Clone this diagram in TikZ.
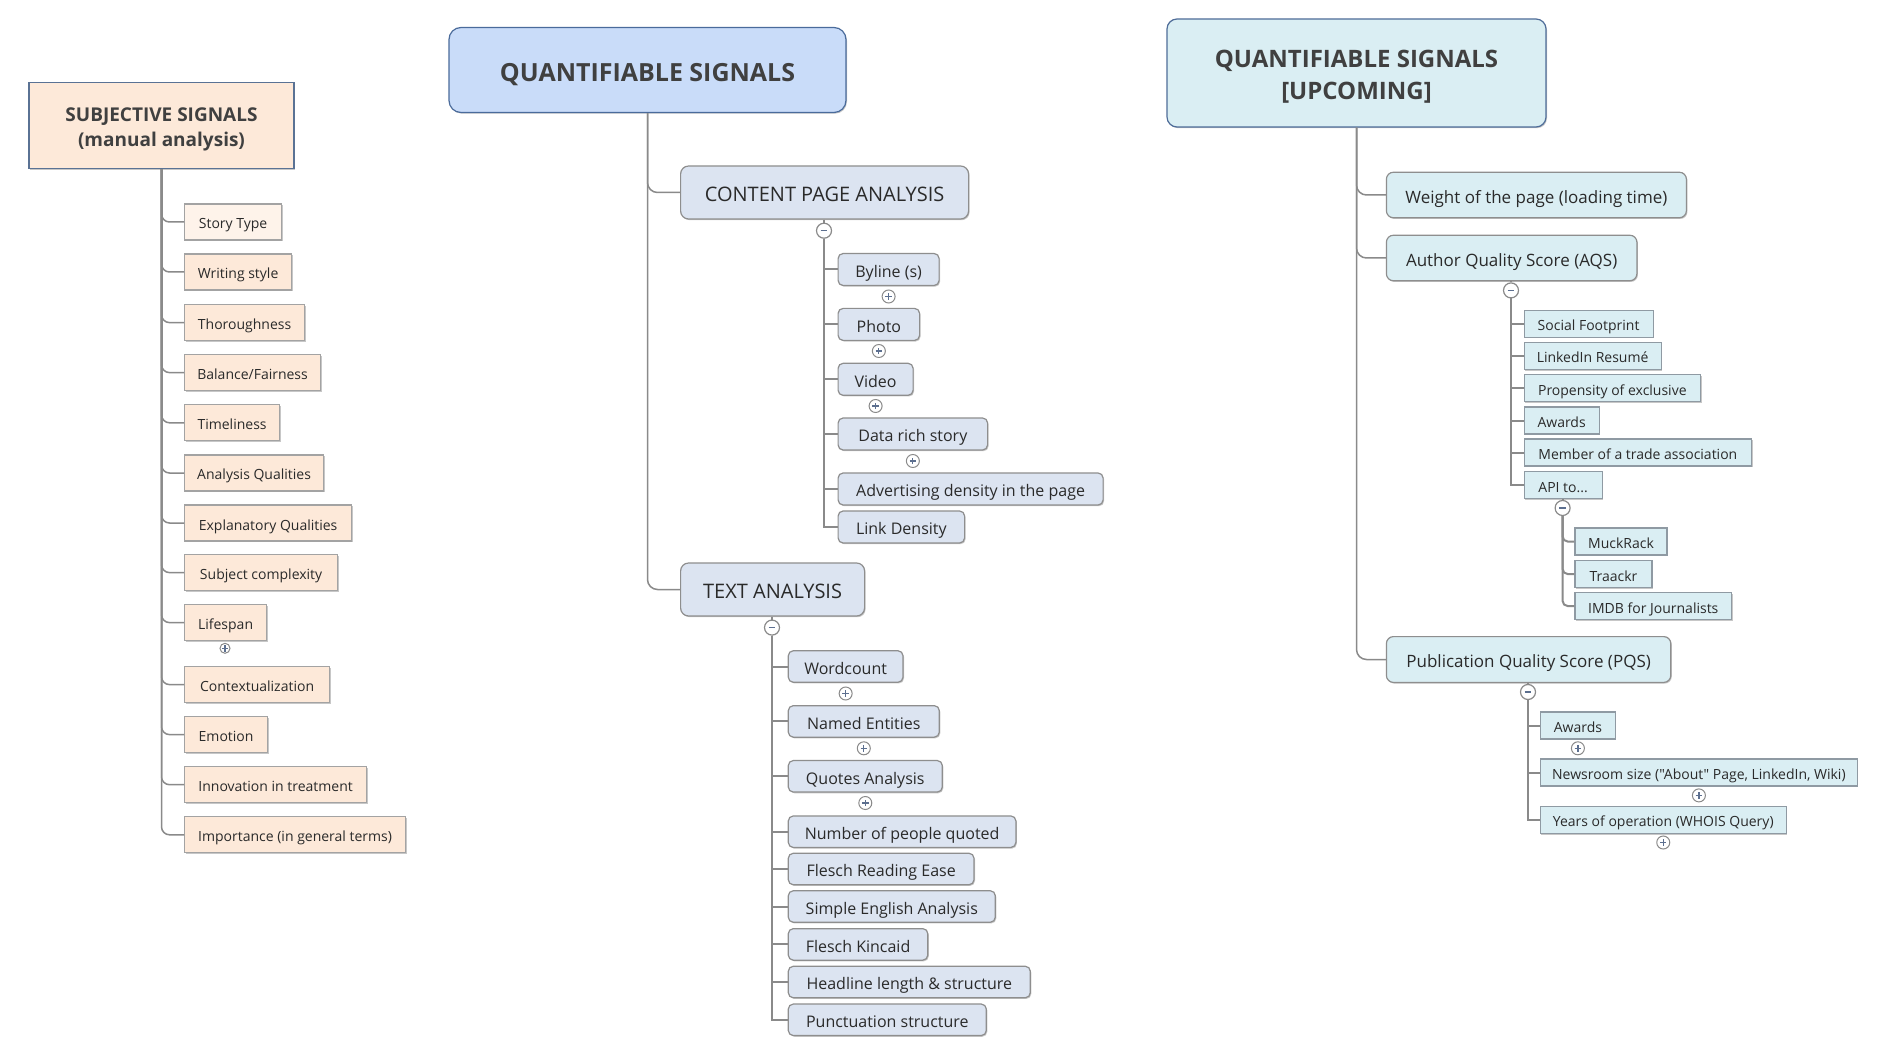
\documentclass[tikz,border=0pt]{standalone}
\usepackage{fontspec}
\setmainfont{Open Sans}[Ligatures=TeXOff]
\usetikzlibrary{shadows}
\definecolor{peach}{HTML}{FDE9D9}
\definecolor{peachlt}{HTML}{FEF3EA}
\definecolor{sborder}{HTML}{5A7294}
\definecolor{gborder}{HTML}{A3A3A3}
\definecolor{qsfill}{HTML}{C9DCF9}
\definecolor{qsborder}{HTML}{4A6B9B}
\definecolor{cfill}{HTML}{DCE4F1}
\definecolor{cborder}{HTML}{8E8E8E}
\definecolor{ufill}{HTML}{DAEEF3}
\definecolor{uborder}{HTML}{4F6D99}
\definecolor{ucborder}{HTML}{8F9AA3}
\definecolor{linec}{HTML}{8A8A8A}
\definecolor{txt}{HTML}{2A2A2A}
\definecolor{ttl}{HTML}{404040}
\definecolor{sign}{HTML}{5C6F8F}
\tikzset{
  wh/.style 2 args={minimum width={#1*0.5pt}, minimum height={#2*0.5pt}},
  tv/.style 2 args={text height=#1pt, text depth=#2pt},
  shad/.style={drop shadow={shadow xshift=0.5pt, shadow yshift=-0.6pt, fill=black, opacity=0.22}},
  base/.style={draw, inner sep=0pt, text=txt, line width=0.6pt, shad},
  sbox/.style={base, fill=peach, draw=gborder, font=\fontsize{7pt}{8.5pt}\selectfont, tv={8.75}{1.75}, anchor=west},
  cbox/.style={base, fill=cfill, draw=cborder, rounded corners=2.5pt, font=\fontsize{8pt}{9.5pt}\selectfont, tv={9.7}{2}, anchor=west},
  hbox/.style={base, fill=cfill, draw=cborder, rounded corners=4pt, font=\fontsize{10pt}{12pt}\selectfont, tv={11.6}{2.5}, anchor=west},
  mbox/.style={base, fill=ufill, draw=cborder, rounded corners=3.5pt, font=\fontsize{8.5pt}{10pt}\selectfont, tv={10.2}{2.1}, anchor=west},
  ubox/.style={base, fill=ufill, draw=ucborder, font=\fontsize{7pt}{8.5pt}\selectfont, tv={8.75}{1.75}, anchor=west},
  trunk/.style={draw=linec, line width=0.75pt},
  sub/.style={draw=linec, line width=1pt},
  plusc/.style={circle, draw=linec, fill=white, line width=0.5pt, inner sep=0pt, minimum size=6.5pt,
    path picture={\draw[sign, line width=0.6pt]
      ([xshift=-1.6pt]path picture bounding box.center) -- ([xshift=1.6pt]path picture bounding box.center)
      ([yshift=-1.6pt]path picture bounding box.center) -- ([yshift=1.6pt]path picture bounding box.center);}},
  splusc/.style={plusc, minimum size=5pt},
  minusc/.style={circle, draw=linec, fill=white, line width=0.6pt, inner sep=0pt, minimum size=7.5pt,
    path picture={\draw[sign, line width=0.6pt]
      ([xshift=-1.7pt]path picture bounding box.center) -- ([xshift=1.7pt]path picture bounding box.center);}},
}
\begin{document}
\begin{tikzpicture}[x=0.5pt,y=-0.5pt]
\useasboundingbox[fill=white] (0,0) rectangle (1902,1048);

% ---------------- SUBJECTIVE SIGNALS ----------------
\node[base, fill=peach, draw=sborder, wh={265}{86}, text=ttl,
  font=\bfseries\fontsize{9.5pt}{12.6pt}\selectfont] (subj) at (161.5,125.5)
  {\raisebox{-1.9pt}[\height][\depth]{\begin{tabular}{@{}c@{}}SUBJECTIVE SIGNALS\\(manual analysis)\end{tabular}}};

\node[sbox, fill=peachlt, wh={97}{36}] (st) at (184,222) {Story Type};
\node[sbox, wh={107}{36}] (ws) at (184,272) {Writing style};
\node[sbox, wh={120}{36}] (th) at (184,322.6) {Thoroughness};
\node[sbox, wh={136}{36}] (bf) at (184,372.6) {Balance/Fairness};
\node[sbox, wh={95}{36}] (tl) at (184,422.8) {Timeliness};
\node[sbox, wh={139}{36}] (aq) at (184,473) {Analysis Qualities};
\node[sbox, wh={167}{36}] (eq) at (184,523) {Explanatory Qualities};
\node[sbox, wh={153}{36}] (sc) at (184,572.6) {Subject complexity};
\node[sbox, wh={82}{36}] (ls) at (184,622.6) {Lifespan};
\node[sbox, wh={145}{36}] (cx) at (184,684.6) {Contextualization};
\node[sbox, wh={83}{36}] (em) at (184,734.6) {Emotion};
\node[sbox, wh={182}{36}] (it) at (184,784.7) {Innovation in treatment};
\node[sbox, wh={221}{36}] (im) at (184,834.8) {Importance (in general terms)};
\node[splusc] (lsp) at (225,648.3) {};

\foreach \c in {st,ws,th,bf,tl,aq,eq,sc,ls,cx,em,it,im}
  \draw[trunk, rounded corners=4pt] (subj.south) |- (\c.west);

% ---------------- QUANTIFIABLE SIGNALS ----------------
\node[base, fill=qsfill, draw=qsborder, rounded corners=6pt, wh={397}{85}, text=ttl,
  font=\bfseries\fontsize{12.5pt}{15pt}\selectfont, tv={14.7}{3.1}] (qs) at (647.5,70) {QUANTIFIABLE SIGNALS};

\node[hbox, wh={288}{53}] (cpa) at (680,192.5) {CONTENT PAGE ANALYSIS};
\node[hbox, wh={184}{53}] (ta) at (680,589.5) {TEXT ANALYSIS};
\draw[trunk, rounded corners=5pt] (qs.south) |- (cpa.west);
\draw[trunk, rounded corners=5pt] (qs.south) |- (ta.west);

% content page children
\node[minusc] (cpam) at (824,230.7) {};
\node[cbox, wh={101}{32}] (by) at (837.5,269.5) {Byline (s)};
\node[cbox, wh={81.5}{32}] (ph) at (837.5,324.4) {Photo};
\node[cbox, wh={75}{32}] (vi) at (837.5,379.3) {Video};
\node[cbox, wh={149.5}{32}] (dr) at (837.5,434) {Data rich story};
\node[cbox, wh={265}{32}] (ad) at (837.5,489) {Advertising density in the page};
\node[cbox, wh={126.5}{32}] (ld) at (837.5,527) {Link Density};
\node[plusc] (byp) at (by.south |- 0,296.5) {};
\node[plusc] (php) at (ph.south |- 0,351) {};
\node[plusc] (vip) at (vi.south |- 0,406) {};
\node[plusc] (drp) at (dr.south |- 0,461) {};
\draw[sub] (cpa.south -| cpam) -- (cpam.north);
\foreach \c in {by,ph,vi,dr,ad,ld}
  \draw[sub] (cpam.south) |- (\c.west);

% text analysis children
\node[minusc] (tam) at (772,627.6) {};
\node[cbox, wh={114.7}{31.5}] (wc) at (787.7,666.5) {Wordcount};
\node[cbox, wh={151}{31.5}] (ne) at (787.7,721.4) {Named Entities};
\node[cbox, wh={154}{31.5}] (qa) at (787.7,776.3) {Quotes Analysis};
\node[cbox, wh={227.6}{31.5}] (np) at (787.7,831.7) {Number of people quoted};
\node[cbox, wh={185.7}{31.5}] (fr) at (787.7,869) {Flesch Reading Ease};
\node[cbox, wh={207}{31.5}] (se) at (787.7,906.5) {Simple English Analysis};
\node[cbox, wh={139.5}{31.5}] (fk) at (787.7,944.4) {Flesch Kincaid};
\node[cbox, wh={242}{31.5}] (hl) at (787.7,982) {Headline length \& structure};
\node[cbox, wh={198}{31.5}] (ps) at (787.7,1019.8) {Punctuation structure};
\node[plusc] (wcp) at (wc.south |- 0,693.5) {};
\node[plusc] (nep) at (ne.south |- 0,748.3) {};
\node[plusc] (qap) at (qa.south |- 0,803) {};
\draw[sub] (ta.south -| tam) -- (tam.north);
\foreach \c in {wc,ne,qa,np,fr,se,fk,hl,ps}
  \draw[sub] (tam.south) |- (\c.west);

% ---------------- QUANTIFIABLE SIGNALS [UPCOMING] ----------------
\node[base, fill=ufill, draw=uborder, rounded corners=5pt, wh={379}{108}, text=ttl,
  font=\bfseries\fontsize{12pt}{16.1pt}\selectfont] (up) at (1356.5,73)
  {\raisebox{-1.9pt}[\height][\depth]{\begin{tabular}{@{}c@{}}QUANTIFIABLE SIGNALS\\\relax[UPCOMING]\end{tabular}}};

\node[mbox, wh={300}{45.5}] (wt) at (1385.8,195) {Weight of the page (loading time)};
\node[mbox, wh={250.5}{45.5}] (aqs) at (1385.8,258) {Author Quality Score (AQS)};
\node[mbox, wh={284.4}{45.8}] (pqs) at (1385.8,659.5) {Publication Quality Score (PQS)};
\foreach \c in {wt,aqs,pqs}
  \draw[trunk, rounded corners=5pt] (up.south) |- (\c.west);

% AQS children
\node[minusc] (aqsm) at (1511,290.4) {};
\node[ubox, wh={129}{27}] (sf) at (1523.5,323.7) {Social Footprint};
\node[ubox, wh={137}{27}] (li) at (1523.5,356) {LinkedIn Resumé};
\node[ubox, wh={176.5}{27}] (pe) at (1523.5,388.4) {Propensity of exclusive};
\node[ubox, wh={75}{27}] (aw) at (1523.5,420.5) {Awards};
\node[ubox, wh={227.5}{27}] (mt) at (1523.5,452.5) {Member of a trade association};
\node[ubox, wh={78}{27}] (api) at (1523.5,485) {API to...};
\draw[sub] (aqs.south -| aqsm) -- (aqsm.north);
\foreach \c in {sf,li,pe,aw,mt,api}
  \draw[sub] (aqsm.south) |- (\c.west);

% API children
\node[minusc] (apim) at (1562.6,508) {};
\node[ubox, wh={92}{27}] (mr) at (1574.4,541.5) {MuckRack};
\node[ubox, wh={77}{27}] (tr) at (1574.4,574) {Traackr};
\node[ubox, wh={156.5}{27}] (imdb) at (1574.4,606) {IMDB for Journalists};
\draw[sub] (api.south -| apim) -- (apim.north);
\foreach \c in {mr,tr,imdb}
  \draw[sub, rounded corners=2.5pt] (apim.south) |- (\c.west);

% PQS children
\node[minusc] (pqsm) at (1528,692) {};
\node[ubox, wh={75}{27}] (pa) at (1539.8,725.5) {Awards};
\node[ubox, wh={317}{27}] (nr) at (1539.8,772.5) {Newsroom size ("About" Page, LinkedIn, Wiki)};
\node[ubox, wh={245.7}{27}] (yo) at (1539.8,819.8) {Years of operation (WHOIS Query)};
\node[plusc] (pap) at (pa.south |- 0,748.3) {};
\node[plusc] (nrp) at (nr.south |- 0,795.4) {};
\node[plusc] (yop) at (yo.south |- 0,842.5) {};
\draw[sub] (pqs.south -| pqsm) -- (pqsm.north);
\foreach \c in {pa,nr,yo}
  \draw[sub] (pqsm.south) |- (\c.west);
\end{tikzpicture}
\end{document}
